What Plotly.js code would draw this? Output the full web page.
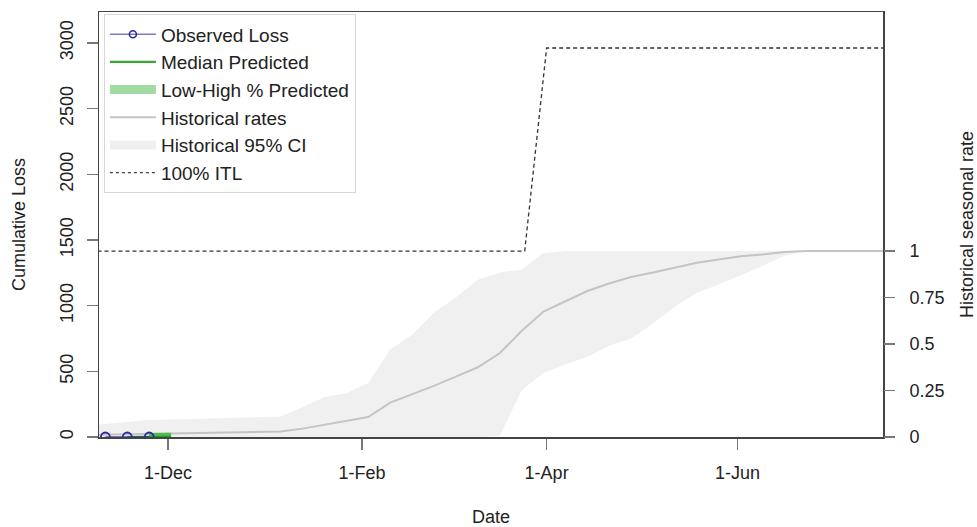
<!DOCTYPE html>
<html>
<head>
<meta charset="utf-8">
<script src="https://cdn.plot.ly/plotly-3.0.1.min.js"></script>
<style>html,body{margin:0;padding:0;background:#fff;}#chart{width:977px;height:527px;}</style>
</head>
<body>
<div id="chart"></div>
<script>
// ---- data ----
const obsDates = ['2018-11-11','2018-11-18','2018-11-25'];
const obsLoss = [0, 0, 0];

const predMedDates = ['2018-11-18','2018-11-25','2018-12-02'];
const predMedian = [0, 1, 3];
const predBandDates = ['2018-11-25','2018-12-02'];
const predLow = [0, 0];
const predHigh = [30, 32];

const histDates = ['2018-11-04','2018-11-11','2018-11-18','2018-11-25','2018-12-02','2018-12-09','2018-12-16',
  '2018-12-23','2018-12-30','2019-01-06','2019-01-13','2019-01-20','2019-01-27','2019-02-03','2019-02-10',
  '2019-02-17','2019-02-24','2019-03-03','2019-03-10','2019-03-17','2019-03-24','2019-03-31','2019-04-07',
  '2019-04-14','2019-04-21','2019-04-28','2019-05-05','2019-05-12','2019-05-19','2019-05-26','2019-06-02',
  '2019-06-09','2019-06-16','2019-06-23','2019-06-30','2019-07-07','2019-07-14','2019-07-21'];
const histRate = [0.010,0.012,0.015,0.018,0.020,0.021,0.022,0.024,0.026,0.030,0.045,0.065,0.085,0.107,0.185,
  0.230,0.275,0.325,0.375,0.450,0.570,0.675,0.730,0.785,0.825,0.860,0.885,0.910,0.937,0.955,0.972,
  0.982,0.995,1.000,1.000,1.000,1.000,1.000];
const histUpper = [0.060,0.068,0.080,0.092,0.095,0.097,0.100,0.103,0.106,0.110,0.160,0.215,0.235,0.290,0.470,
  0.550,0.670,0.750,0.845,0.885,0.900,0.990,1.000,1.000,1.000,1.000,1.000,1.000,1.000,1.000,1.000,
  1.000,1.000,1.000,1.000,1.000,1.000,1.000];
const histLower = [0,0,0,0,0,0,0,0,0,0,0,0,0,0,0,
  0,0,0,0,0.005,0.250,0.345,0.390,0.430,0.490,0.530,0.610,0.700,0.775,0.820,0.870,
  0.920,0.975,1.000,1.000,1.000,1.000,1.000];

const itlDates = ['2018-11-04','2019-03-25','2019-04-01','2019-07-21'];
const itlLoss = [1416, 1416, 2962, 2962];

const xTickVals = ['2018-12-01','2019-02-01','2019-04-01','2019-06-01'];
const xTickText = ['1-Dec','1-Feb','1-Apr','1-Jun'];
const yTickVals = [0,500,1000,1500,2000,2500,3000];
const y2TickVals = [0,0.25,0.5,0.75,1];
const y2TickText = ['0','0.25','0.5','0.75','1'];

const legendNames = ['Observed Loss','Median Predicted','Low-High % Predicted','Historical rates','Historical 95% CI','100% ITL'];

// ---- build ----
const FONT = 'Liberation Sans, Arial, sans-serif';
const bandX = histDates.concat(histDates.slice().reverse());
const bandY = histUpper.concat(histLower.slice().reverse());
const pbX = predBandDates.concat(predBandDates.slice().reverse());
const pbY = predHigh.concat(predLow.slice().reverse());

const traces = [
  {x: bandX, y: bandY, yaxis: 'y2', type: 'scatter', mode: 'lines', fill: 'toself',
   fillcolor: '#f0f0f0', line: {width: 0}, showlegend: false, hoverinfo: 'skip'},
  {x: histDates, y: histRate, yaxis: 'y2', type: 'scatter', mode: 'lines',
   line: {color: '#c4c4c4', width: 2}, showlegend: false},
  {x: itlDates, y: itlLoss, yaxis: 'y', type: 'scatter', mode: 'lines',
   line: {color: '#333', width: 1.3, dash: '4px,3px'}, showlegend: false},
  {x: pbX, y: pbY, yaxis: 'y', type: 'scatter', mode: 'lines', fill: 'toself',
   fillcolor: 'rgba(60,185,60,0.85)', line: {width: 0}, showlegend: false},
  {x: predMedDates, y: predMedian, yaxis: 'y', type: 'scatter', mode: 'lines',
   line: {color: '#22a022', width: 2}, showlegend: false},
  {x: obsDates, y: obsLoss, yaxis: 'y', type: 'scatter', mode: 'lines+markers',
   line: {color: 'rgba(40,40,160,0.8)', width: 1.5},
   marker: {symbol: 'circle-open', size: 9, color: '#2a2aa0', line: {width: 1.8}}, showlegend: false},
  // legend entries
  {x: [null], y: [null], yaxis: 'y', type: 'scatter', mode: 'lines+markers', name: legendNames[0],
   line: {color: 'rgba(90,90,190,0.8)', width: 1.5},
   marker: {symbol: 'circle-open', size: 7, color: '#2a2aa0', line: {width: 1.6}}},
  {x: [null], y: [null], yaxis: 'y', type: 'scatter', mode: 'lines', name: legendNames[1],
   line: {color: '#33aa33', width: 2.2}},
  {x: [null], y: [null], yaxis: 'y', type: 'scatter', mode: 'lines', name: legendNames[2],
   line: {color: '#a2dba2', width: 9}},
  {x: [null], y: [null], yaxis: 'y', type: 'scatter', mode: 'lines', name: legendNames[3],
   line: {color: '#c4c4c4', width: 2}},
  {x: [null], y: [null], yaxis: 'y', type: 'scatter', mode: 'lines', name: legendNames[4],
   line: {color: '#efefef', width: 9}},
  {x: [null], y: [null], yaxis: 'y', type: 'scatter', mode: 'lines', name: legendNames[5],
   line: {color: '#444', width: 1.3, dash: '3px,3px'}}
];

const axisCommon = {
  showgrid: false, zeroline: false, ticks: 'outside', ticklen: 11, tickwidth: 1.3,
  tickcolor: '#777', tickfont: {family: FONT, size: 18, color: '#222'}
};

const layout = {
  width: 977, height: 527,
  margin: {l: 99, r: 94, t: 12, b: 90},
  paper_bgcolor: '#fff', plot_bgcolor: '#fff',
  font: {family: FONT, size: 18, color: '#222'},
  xaxis: Object.assign({}, axisCommon, {
    type: 'date', range: ['2018-11-08 23:00', '2019-07-17 12:00'],
    tickmode: 'array', tickvals: xTickVals, ticktext: xTickText,
    showline: true, mirror: true, linecolor: '#444', linewidth: 1.5,
    ticklabelstandoff: 8,
    title: {text: 'Date', font: {family: FONT, size: 18, color: '#222'}, standoff: 30}
  }),
  yaxis2: Object.assign({}, axisCommon, {
    side: 'right', range: [0, 3236 / 1416],
    tickmode: 'array', tickvals: y2TickVals, ticktext: y2TickText,
    showline: false, ticklabelstandoff: 11,
    title: {text: 'Historical seasonal rate', font: {family: FONT, size: 18, color: '#222'}, standoff: 20}
  }),
  yaxis: Object.assign({}, axisCommon, {
    overlaying: 'y2', side: 'left',
    range: [0, 3236], tickmode: 'array', tickvals: yTickVals, tickangle: -90,
    showline: true, mirror: true, linecolor: '#444', linewidth: 1.5,
    ticklabelstandoff: 6,
    title: {text: 'Cumulative Loss', font: {family: FONT, size: 18, color: '#222'}, standoff: 27}
  }),
  legend: {
    x: 0.006, y: 0.995, xanchor: 'left', yanchor: 'top',
    bgcolor: '#fff', bordercolor: '#d6d6d6', borderwidth: 1.2, itemwidth: 46,
    font: {family: FONT, size: 19, color: '#222'}, traceorder: 'normal', tracegroupgap: 0
  },
  showlegend: true
};

Plotly.newPlot('chart', traces, layout, {staticPlot: true, displayModeBar: false});
</script>
</body>
</html>
